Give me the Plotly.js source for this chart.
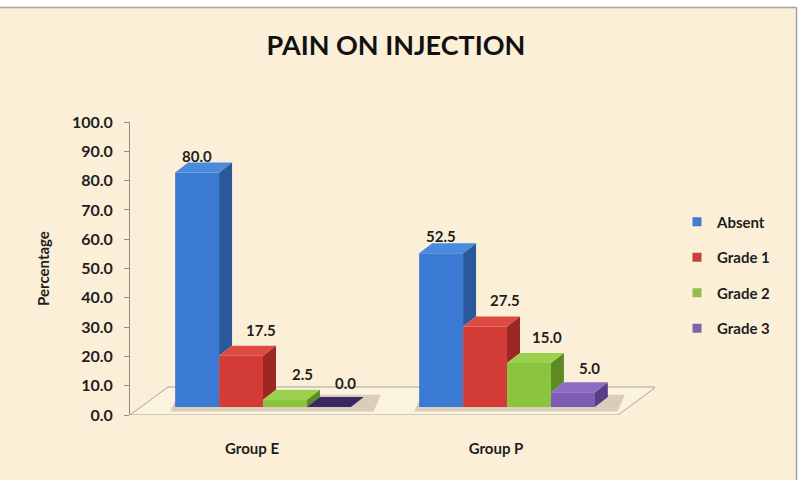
<!DOCTYPE html>
<html>
<head>
<meta charset="utf-8">
<script src="https://cdn.plot.ly/plotly-3.0.1.min.js"></script>
<style>
  html, body { margin: 0; padding: 0; background: #ffffff; }
  #chart { width: 799px; height: 480px; }
</style>
</head>
<body>
<div id="chart"></div>
<script>
// ---- data ----
const categories = ['Group E', 'Group P'];
const seriesNames = ['Absent', 'Grade 1', 'Grade 2', 'Grade 3'];
const absent = [80.0, 52.5];
const grade1 = [17.5, 27.5];
const grade2 = [2.5, 15.0];
const grade3 = [0.0, 5.0];
const yTicks = [0, 10, 20, 30, 40, 50, 60, 70, 80, 90, 100];

const seriesValues = [absent, grade1, grade2, grade3];

// ---- styling ----
const FONT = 'Lato, "Open Sans", sans-serif';
const BG = '#FBF0D7';
const palette = [
  { front: '#3A7AD2', side: '#29599A', top: '#4A8BE0', dark: '#223E6E' },
  { front: '#D23B36', side: '#9C2723', top: '#DC4A42', dark: '#6E1A18' },
  { front: '#8BC43F', side: '#5E8A25', top: '#9BD14C', dark: '#3E5E18' },
  { front: '#7C5CB4', side: '#563F88', top: '#8B6CC2', dark: '#38285F' }
];
const legendColors = ['#3F7FD0', '#C9403D', '#92BD4C', '#7E62B0'];
const labelShiftX = [0, 20, 18, 17];
const labelShiftY = [17, 26, 26, 24];

// ---- geometry (pixels) ----
const W = 799, H = 480;
const plotL = 130, plotR = 655, plotT = 114, plotB = 415;
const plotW = plotR - plotL, plotH = plotB - plotT;
const catPx = 244;                 // width of one category slot along the front edge
const yPx = 2.93;                  // pixels per percentage point
const valueTopPx = 293;            // height of the 0-100 value scale
const barShiftX = 11, barShiftY = 8;   // bars sit a little way back on the floor
const floorDX = 38, floorDY = 28;      // depth of the floor
const barDX = 13, barDY = 10;          // depth of each bar

const barW = 0.18;
const nSeries = seriesValues.length;
const xIdx = categories.map((c, i) => i);

const traces = [];

// floor of the 3D plot area
const fdx = floorDX / catPx, fdy = floorDY / yPx;
const xMin = -0.5, xMaxFront = categories.length - 0.5;
traces.push({
  type: 'scatter', mode: 'lines', xaxis: 'x', yaxis: 'y',
  x: [xMin, xMaxFront, xMaxFront + fdx, xMin + fdx, xMin],
  y: [0, 0, fdy, fdy, 0],
  fill: 'toself', fillcolor: 'rgba(255,252,244,0.25)',
  line: { color: '#A9A49A', width: 1 },
  hoverinfo: 'skip', showlegend: false
});

// soft shadow on the floor behind each group of bars (drawn on the floor subplot)
const ddx = barDX / catPx, ddy = barDY / yPx;
const offX = barShiftX / catPx, offY = barShiftY / yPx;
const shX = [], shY = [];
xIdx.forEach(c => {
  const l = c - nSeries * barW / 2 + offX - 0.02, r = c + nSeries * barW / 2 + ddx + offX + 0.04;
  shX.push(l, r, r + 0.03, l + 0.03, l, null);
  shY.push(offY - 1.5, offY - 1.5, offY + ddy + 0.8, offY + ddy + 0.8, offY - 1.5, null);
});
traces.push({
  type: 'scatter', mode: 'none', xaxis: 'x', yaxis: 'y',
  x: shX, y: shY, fill: 'toself', fillcolor: 'rgba(90,78,55,0.22)',
  hoverinfo: 'skip', showlegend: false
});

// front faces of the bars
seriesValues.forEach((vals, s) => {
  traces.push({
    type: 'bar', name: seriesNames[s], xaxis: 'x2', yaxis: 'y2',
    x: xIdx, y: vals, width: barW, offset: -nSeries * barW / 2 + s * barW,
    marker: { color: palette[s].front, line: { width: 0 } },
    showlegend: false,
    hovertemplate: '%{y:.1f}<extra>' + seriesNames[s] + '</extra>'
  });
});

// side and top faces, built from the same values
seriesValues.forEach((vals, s) => {
  const sx = [], sy = [], tx = [], ty = [], zx = [], zy = [];
  vals.forEach((v, c) => {
    const xl = c - nSeries * barW / 2 + s * barW;
    const xr = xl + barW;
    const next = s + 1 < nSeries ? seriesValues[s + 1][c] : 0;
    const bottom = Math.min(Math.max(next, 0), v);
    if (v > bottom) {
      sx.push(xr, xr + ddx, xr + ddx, xr, xr, null);
      sy.push(bottom, bottom + ddy, v + ddy, v, bottom, null);
    }
    const poly = [[xl, v], [xl + ddx, v + ddy], [xr + ddx, v + ddy], [xr, v], [xl, v]];
    const tgtX = v > 0 ? tx : zx, tgtY = v > 0 ? ty : zy;
    poly.forEach(p => { tgtX.push(p[0]); tgtY.push(p[1]); });
    tgtX.push(null); tgtY.push(null);
  });
  traces.push({
    type: 'scatter', mode: 'none', xaxis: 'x2', yaxis: 'y2',
    x: sx, y: sy, fill: 'toself', fillcolor: palette[s].side,
    hoverinfo: 'skip', showlegend: false
  });
  traces.push({
    type: 'scatter', mode: 'none', xaxis: 'x2', yaxis: 'y2',
    x: tx, y: ty, fill: 'toself', fillcolor: palette[s].top,
    hoverinfo: 'skip', showlegend: false
  });
  if (zx.length) {
    traces.push({
      type: 'scatter', mode: 'none', xaxis: 'x2', yaxis: 'y2',
      x: zx, y: zy, fill: 'toself', fillcolor: palette[s].dark,
      hoverinfo: 'skip', showlegend: false
    });
  }
});

// legend entries with small square keys
seriesNames.forEach((name, s) => {
  traces.push({
    type: 'scatter', mode: 'markers', xaxis: 'x2', yaxis: 'y2',
    x: [null], y: [null], name: name, legendgroup: name,
    marker: { symbol: 'square', size: 9, color: legendColors[s], line: { width: 0 } },
    hoverinfo: 'skip'
  });
});

// value labels
const annotations = [];
seriesValues.forEach((vals, s) => {
  vals.forEach((v, c) => {
    annotations.push({
      xref: 'x2', yref: 'y2',
      x: c - nSeries * barW / 2 + s * barW + barW / 2, y: v,
      text: v.toFixed(1), showarrow: false,
      xshift: labelShiftX[s], yshift: labelShiftY[s],
      font: { family: FONT, size: 15, color: '#1E1E1E', weight: 700 }
    });
  });
});

// page frame: thin grey rule along the top and right edges
const px2x = p => (p - plotL) / plotW;
const py2y = p => (plotB - p) / plotH;
const shapes = [
  { type: 'rect', xref: 'paper', yref: 'paper', x0: px2x(-5), x1: px2x(W + 5), y0: py2y(7), y1: py2y(-5),
    fillcolor: '#FFFFFF', line: { width: 0 } },
  { type: 'rect', xref: 'paper', yref: 'paper', x0: px2x(797), x1: px2x(W + 5), y0: py2y(H + 5), y1: py2y(-5),
    fillcolor: '#FFFFFF', line: { width: 0 } },
  { type: 'line', xref: 'paper', yref: 'paper', x0: px2x(0), x1: px2x(796.5), y0: py2y(7.5), y1: py2y(7.5),
    line: { color: '#A3A3A3', width: 1.5 } },
  { type: 'line', xref: 'paper', yref: 'paper', x0: px2x(796.5), x1: px2x(796.5), y0: py2y(H), y1: py2y(7.5),
    line: { color: '#A3A3A3', width: 1.5 } }
];

const layout = {
  width: W, height: H,
  paper_bgcolor: BG, plot_bgcolor: 'rgba(0,0,0,0)',
  margin: { l: plotL, r: W - plotR, t: plotT, b: H - plotB, pad: 0 },
  barmode: 'overlay',
  showlegend: true,
  title: {
    text: 'PAIN ON INJECTION',
    x: 396 / W, xanchor: 'center', y: 1 - 46 / H, yanchor: 'middle',
    font: { family: FONT, size: 27, color: '#111111', weight: 700 }
  },
  xaxis: {
    domain: [0, 1], range: [xMin, xMin + plotW / catPx],
    tickvals: xIdx, ticktext: categories, ticks: '',
    showline: false, showgrid: false, zeroline: false,
    ticklabelstandoff: 23,
    tickfont: { family: FONT, size: 15, color: '#1E1E1E', weight: 700 },
    fixedrange: true
  },
  yaxis: {
    domain: [0, valueTopPx / plotH], range: [0, 100],
    tickvals: yTicks, tickformat: '.1f',
    ticks: 'outside', ticklen: 5, tickcolor: '#8C8C8C', tickwidth: 1,
    showline: true, linecolor: '#8C8C8C', linewidth: 1,
    showgrid: false, zeroline: false,
    ticklabelstandoff: 8,
    tickfont: { family: FONT, size: 16, color: '#1E1E1E', weight: 700 },
    title: { text: 'Percentage', standoff: 18,
             font: { family: FONT, size: 15, color: '#1E1E1E', weight: 700 } },
    fixedrange: true
  },
  xaxis2: {
    domain: [barShiftX / plotW, 1], range: [xMin, xMin + (plotW - barShiftX) / catPx],
    anchor: 'y2', visible: false, fixedrange: true
  },
  yaxis2: {
    domain: [barShiftY / plotH, 1], range: [0, (plotH - barShiftY) / yPx],
    anchor: 'x2', visible: false, fixedrange: true
  },
  legend: {
    x: px2x(677), xanchor: 'left', y: py2y(275), yanchor: 'middle',
    bgcolor: 'rgba(0,0,0,0)', borderwidth: 0,
    traceorder: 'grouped', tracegroupgap: 13, itemwidth: 30,
    font: { family: FONT, size: 15, color: '#1E1E1E', weight: 700 }
  },
  annotations: annotations,
  shapes: shapes
};

Plotly.newPlot('chart', traces, layout, { displayModeBar: false, staticPlot: true });
</script>
</body>
</html>
